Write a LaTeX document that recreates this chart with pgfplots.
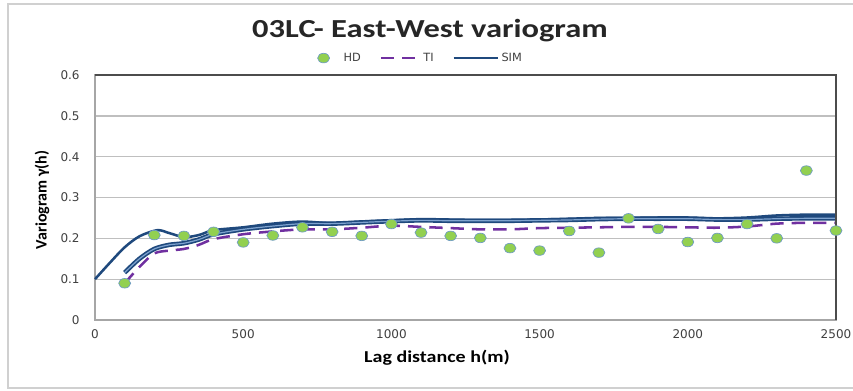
\documentclass[border=0pt]{standalone}
\usepackage{pgfplots}
\pgfplotsset{compat=1.18}
\usepackage{fontspec}
\setmainfont{Carlito}
\newfontfamily\tickfont{DejaVu Sans}

\definecolor{hdgreen}{HTML}{92D050}
\definecolor{hdedge}{HTML}{6F9BC4}
\definecolor{tipurple}{HTML}{7030A0}
\definecolor{simblue}{HTML}{1F497D}
\definecolor{simlight}{HTML}{7FA3CF}
\definecolor{gridgray}{HTML}{BFBFBF}
\definecolor{framegray}{HTML}{D0D0D0}
\definecolor{ticktext}{HTML}{404040}

\pgfplotsset{
  marklegend/.style={legend image code/.code={
    \path[draw=none] (0pt,0pt) -- (17pt,0pt);
    \draw[##1, only marks] plot coordinates {(4pt,0pt)};}},
  linelegend/.style={legend image code/.code={
    \draw[##1] (0pt,0pt) -- (#1,0pt);}},
}

% lag distance vs. experimental variogram values
\pgfplotstableread{
h g
100 0.090
200 0.208
300 0.206
400 0.216
500 0.190
600 0.207
700 0.227
800 0.216
900 0.206
1000 0.235
1100 0.214
1200 0.206
1300 0.201
1400 0.176
1500 0.170
1600 0.218
1700 0.165
1800 0.249
1900 0.223
2000 0.191
2100 0.201
2200 0.235
2300 0.200
2400 0.366
2500 0.219
}\hdtable

\pgfplotstableread{
h g
100 0.090
150 0.130
200 0.163
250 0.170
300 0.174
350 0.184
400 0.198
500 0.210
600 0.217
700 0.222
800 0.222
900 0.226
1000 0.231
1100 0.228
1200 0.225
1300 0.222
1400 0.222
1500 0.225
1600 0.226
1700 0.227
1800 0.228
1900 0.228
2000 0.227
2100 0.226
2200 0.229
2300 0.236
2400 0.238
2500 0.238
}\titable

\pgfplotstableread{
h g
0 0.100
50 0.140
100 0.178
150 0.205
210 0.220
250 0.213
300 0.203
350 0.208
400 0.220
500 0.227
600 0.236
700 0.241
800 0.237
900 0.241
1000 0.244
1100 0.247
1200 0.246
1300 0.245
1400 0.245
1500 0.246
1600 0.248
1700 0.250
1800 0.250
1900 0.251
2000 0.251
2100 0.249
2200 0.251
2300 0.256
2400 0.258
2500 0.258
}\simAtable

\pgfplotstableread{
h g
100 0.116
150 0.150
200 0.174
250 0.184
300 0.188
350 0.197
400 0.210
500 0.222
600 0.230
700 0.236
800 0.236
900 0.239
1000 0.242
1100 0.244
1200 0.243
1300 0.243
1400 0.243
1500 0.244
1600 0.245
1700 0.247
1800 0.248
1900 0.248
2000 0.248
2100 0.246
2200 0.246
2300 0.248
2400 0.249
2500 0.249
}\simBtable

\begin{document}
\begin{tikzpicture}[x=0.75pt,y=0.75pt]
\useasboundingbox (0,0) rectangle (853,390);
\draw[framegray, line width=1.1pt] (8,2) rectangle (870,386);
\node[font=\bfseries\fontsize{19.5}{22}\selectfont, text=black!85] at (430,359)
  {\scalebox{1.25}[1]{03LC- East-West variogram}};
\begin{axis}[
  at={(71.25pt,52.5pt)}, anchor=south west,
  scale only axis, width=555.75pt, height=183.75pt,
  xmin=0, xmax=2500, ymin=0, ymax=0.6,
  xtick={0,500,...,2500},
  ytick={0,0.1,...,0.6},
  scaled ticks=false,
  /pgf/number format/1000 sep={},
  /pgf/number format/assume math mode=true,
  major tick length=0pt,
  ymajorgrids, grid style={gridgray, line width=1pt},
  axis line style={draw=gray!70, line width=1pt},
  tick label style={font=\tickfont\fontsize{9}{10}\selectfont, text=ticktext},
  yticklabel style={xshift=-8pt},
  xticklabel style={yshift=-4pt},
  xlabel={\scalebox{1.2}[1]{Lag distance h(m)}},
  ylabel={Variogram γ(h)},
  xlabel style={font=\bfseries\fontsize{12.5}{14}\selectfont, at={(axis description cs:0.4615,-0.155)}, anchor=center},
  ylabel style={font=\bfseries\fontsize{12}{14}\selectfont, at={(axis description cs:-0.0715,0.49)}, anchor=center},
  legend style={at={(axis description cs:0.44,1.069)}, anchor=center, draw=none, fill=none,
    legend columns=3, font=\tickfont\fontsize{8.5}{9}\selectfont, text=ticktext,
    /tikz/every even column/.append style={column sep=12pt}},
  legend cell align=left,
  clip=false,
]
\addplot[only marks, mark=*, mark size=3.6pt,
  mark options={xscale=1.25, fill=hdgreen, draw=hdedge, line width=0.5pt},
  marklegend]
  table[x=h, y=g] {\hdtable};
\addlegendentry{HD}
\addplot[tipurple, line width=1.9pt, dash pattern=on 10pt off 6pt, smooth,
  linelegend=29pt]
  table[x=h, y=g] {\titable};
\addlegendentry{TI}
\addplot[simblue, line width=1.9pt, smooth, linelegend=33pt]
  table[x=h, y=g] {\simAtable};
\addlegendentry{SIM}
\addplot[simblue, line width=3.4pt, smooth, forget plot]
  table[x=h, y=g] {\simBtable};
\addplot[simlight, line width=0.9pt, smooth, forget plot]
  table[x=h, y=g] {\simBtable};
\draw[black!70, line width=1.4pt] (rel axis cs:0,1) -- (rel axis cs:1,1) -- (rel axis cs:1,0);
\end{axis}
\end{tikzpicture}
\end{document}
